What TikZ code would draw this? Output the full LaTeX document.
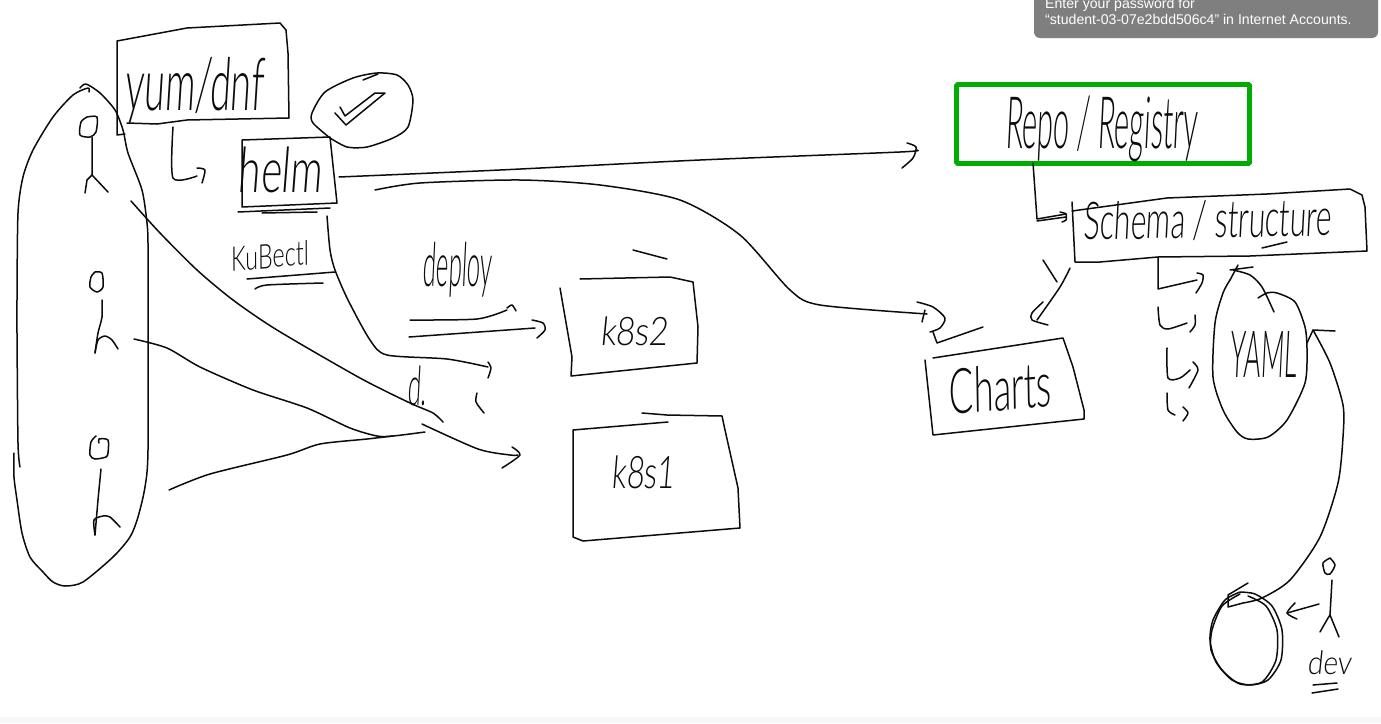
\documentclass[tikz,border=0pt]{standalone}
\usepackage{fontspec}
\setmainfont{Liberation Sans}
\newfontfamily\hand[FakeSlant=0.12]{Lato Light}
\definecolor{inkc}{RGB}{12,12,12}
\definecolor{popc}{RGB}{127,127,127}
\definecolor{greenc}{RGB}{0,172,0}
\definecolor{bandc}{RGB}{248,248,248}
\newcommand{\hw}[3]{\resizebox*{#1pt}{#2pt}{\hand #3}}
\newcommand{\sk}[1]{\draw[ink] plot[smooth,tension=0.45] coordinates {#1};}
\newcommand{\pl}[1]{\draw[ink] plot[sharp plot] coordinates {#1};}
\tikzset{
  ink/.style={draw=inkc,line width=1.5pt,line cap=round,line join=round},
  handlabel/.style={inner sep=0pt,text=inkc,anchor=center},
  poptext/.style={inner sep=0pt,text=white,anchor=base west,font=\fontsize{14.1}{16}\selectfont}
}
\begin{document}
\begin{tikzpicture}[x=1pt,y=-1pt]
\useasboundingbox (0,0) rectangle (1381,723);
\fill[white] (0,0) rectangle (1381,723);
\fill[bandc] (0,717) rectangle (1381,723);
% popup
\begin{scope}
\clip (0,0) rectangle (1381,723);
\fill[popc,rounded corners=6pt] (1034,-12) rectangle (1378,38);
\node[poptext] (popA) at (1045,8) {Enter your password for};
\node[poptext] (popB) at (1045,24) {“student-03-07e2bdd506c4” in Internet Accounts.};
\end{scope}
% named ends of connectors
\coordinate (yumDrop) at (173,127);
\coordinate (helmOut) at (339,177);
\coordinate (repoIn) at (916,150);
\coordinate (helmLow) at (375,190);
\coordinate (chartsIn) at (927,314);
\coordinate (helmDown) at (327,216);
\coordinate (kubeEnd) at (488,367);
\coordinate (userOne) at (131,201);
\coordinate (userTwo) at (134,339);
\coordinate (userThree) at (169,490);
\coordinate (joinA) at (393,436);
\coordinate (joinB) at (422,424);
\coordinate (kOneIn) at (518,455);
\coordinate (repoDrop) at (1033,163);
\coordinate (schemaIn) at (1066,214);
\coordinate (schemaOut) at (1070,268);
\coordinate (chartsTop) at (1037,320);
\coordinate (schemaDrop) at (1158,257);
\coordinate (discOut) at (1243,603);
\coordinate (yamlIn) at (1313,330);
\coordinate (devArrow) at (1319,604);
\coordinate (discIn) at (1287,613);
% crowd outline
\sk{(80,88)(86,84)(100,93)(115,110)(123,130)(128,153)(142,190)(147,223)(148,243)(148,300)(148,450)(145,487)(138,517)(130,537)(113,557)(83,582)(65,586)(53,582)(43,572)(30,557)(22,533)(17,500)(14,477)(14,453)}
\sk{(20,467)(18,443)(17,333)(17,300)(18,213)(23,177)(33,150)(53,117)(73,95)(88,88)(89,92)}
% people
\sk{(87,117)(97,117)(96,132)(90,137)(80,135)(81,122)(87,117)}
\pl{(92,137)(92,175)(87,180)(85,193)}
\pl{(92,175)(108,192)}
\sk{(95,272)(102,273)(103,287)(97,292)(90,287)(91,277)(95,272)}
\sk{(102,300)(102,317)(98,333)(95,353)}
\sk{(95,353)(98,340)(105,336)(112,340)(118,349)}
\sk{(96,436)(91,442)(90,455)(95,459)(106,457)(108,453)(108,440)(99,439)(99,443)}
\sk{(101,469)(98,500)(95,535)}
\sk{(95,535)(94,520)(103,516)(110,517)(120,527)}
\sk{(1330,558)(1323,563)(1325,573)(1330,574)(1335,565)(1330,558)}
\pl{(1332,580)(1330,615)}
\pl{(1320,632)(1328,618)(1330,615)(1339,637)}
% yum box
\pl{(127,123)(157,124)(187,120)(289,118)(288,53)(286,30)(280,23)(187,28)(117,41)(117,135)(125,134)}
\node[handlabel] (yum) at (194,90) {\hw{138}{66}{yum/dnf}};
\sk{(yumDrop)(173,178)(197,176)}
\sk{(197,168)(205,170)(202,183)}
% helm box
\pl{(242,140)(330,137)(337,203)(242,207)(242,140)}
\node[handlabel] (helm) at (280,170) {\hw{84}{46}{helm}};
\pl{(238,212)(330,208)}
\pl{(262,213)(317,212)}
% check oval
\sk{(330,138)(313,123)(312,113)(325,92)(353,78)(377,73)(397,75)(408,85)(413,100)(408,127)(393,138)(367,147)(347,147)(330,138)}
\pl{(335,113)(346,125)(385,93)(375,93)(345,116)(340,107)}
\pl{(363,80)(378,74)}
% kubectl
\node[handlabel,rotate=5] (kube) at (269,256) {\hw{78}{25}{KuBectl}};
\pl{(247,279)(335,272)}
\sk{(255,289)(267,285)(323,283)}
% helm to repo
\sk{(helmOut)(500,170)(700,160)(900,152)(repoIn)}
\sk{(907,143)(916,147)(913,158)(902,168)}
% helm to charts
\sk{(helmLow)(420,183)(520,180)(600,185)(680,200)(740,235)(790,290)(820,305)(chartsIn)}
\sk{(917,302)(933,307)(945,318)(940,328)(930,332)}
\sk{(925,310)(922,322)}
\pl{(933,332)(937,343)(983,327)}
% kubectl curve
\sk{(helmDown)(330,250)(335,270)(348,300)(370,340)(387,355)(447,359)(kubeEnd)}
\sk{(488,362)(491,368)(488,378)}
\sk{(477,393)(476,402)(484,413)}
% users to k8s1
\sk{(userOne)(160,233)(197,270)(233,300)(277,330)(360,378)(410,403)(433,413)(443,422)}
\sk{(userTwo)(167,348)(200,367)(253,390)(307,408)(350,428)(377,436)(joinA)(425,432)}
\sk{(userThree)(210,474)(287,455)(320,444)(367,439)(joinA)}
\sk{(joinB)(478,449)(510,455)(kOneIn)}
\sk{(512,447)(520,455)(502,468)}
\node[handlabel] (dmark) at (417,386) {\hw{19}{40}{d.}};
% deploy
\node[handlabel] (deploy) at (457,270) {\hw{69}{55}{deploy}};
\sk{(410,320)(477,319)(507,310)}
\sk{(507,308)(512,305)(516,311)}
\pl{(409,337)(535,328)}
\sk{(532,320)(543,323)(545,330)(537,338)}
% k8s2
\pl{(560,288)(572,357)(571,376)(697,363)(698,327)(693,282)(670,277)(580,279)}
\pl{(633,250)(667,259)}
\node[handlabel] (ktwo) at (634,331) {\hw{68}{29}{k8s2}};
% k8s1
\pl{(668,422)(573,430)(573,537)(583,541)(740,528)(738,488)(725,430)(722,416)(667,415)(642,413)}
\node[handlabel] (kone) at (643,472) {\hw{63}{33}{k8s1}};
% repo
\draw[greenc,line width=4.6pt,rounded corners=1pt] (956.5,84.5) rectangle (1249.5,163.5);
\node[handlabel] (repo) at (1101,129) {\hw{192}{66}{Repo / Registry}};
\pl{(repoDrop)(1037,219)(schemaIn)}
\pl{(1037,221)(1066,217)}
\sk{(1060,212)(1066,214)(1066,220)(1062,222)}
% schema
\pl{(1072,202)(1075,262)(1100,262)(1158,257)(1250,256)(1367,251)(1365,207)(1362,195)(1350,189)(1267,194)(1167,198)(1072,211)}
\node[handlabel,rotate=1] (schema) at (1207,220) {\hw{248}{40}{Schema / structure}};
\pl{(1262,248)(1287,242)}
% schema to charts
\pl{(1043,260)(1057,282)}
\sk{(schemaOut)(1060,287)(chartsTop)}
\sk{(1043,302)(1032,313)(1032,320)(1048,325)}
% charts
\pl{(933,358)(1063,338)(1073,367)(1084,410)(1084,419)(933,435)(925,360)}
\node[handlabel,rotate=5] (charts) at (999,388) {\hw{103}{46}{Charts}};
% small arrows
\pl{(schemaDrop)(1158,289)(1197,280)}
\sk{(1197,273)(1203,275)(1202,283)(1196,293)}
\sk{(1158,307)(1160,325)(1168,329)(1187,323)}
\sk{(1195,315)(1195,325)(1190,332)}
\sk{(1167,348)(1168,378)(1180,378)(1190,370)}
\sk{(1193,362)(1198,370)(1189,388)}
\sk{(1167,393)(1168,410)(1175,415)}
\sk{(1183,407)(1188,413)(1183,421)}
% yaml
\pl{(1230,270)(1253,267)}
\pl{(1238,265)(1230,280)}
\sk{(1230,280)(1223,293)(1215,323)(1213,377)(1223,410)(1237,432)(1248,439)(1268,437)(1287,420)(1305,383)(1307,350)(1305,327)(1295,302)(1277,293)(1267,293)(1258,298)}
\sk{(1233,270)(1250,275)(1262,287)(1274,312)}
\node[handlabel] (yaml) at (1263,354) {\hw{67}{46}{YAML}};
% disc
\sk{(1240,592)(1225,600)(1213,620)(1210,640)(1216,662)(1232,680)(1250,685)(1268,680)(1281,660)(1282,630)(1272,606)(1255,594)(1240,592)}
\sk{(1240,594)(1222,606)(1212,630)(1211,650)(1222,670)(1240,684)(1262,682)(1276,660)(1277,630)(1266,606)(1248,596)}
\pl{(1243,603)(1228,607)(1228,595)(1248,583)}
% disc to yaml
\sk{(discOut)(1262,598)(1290,580)(1320,537)(1338,483)(1343,437)(1343,405)(1330,363)(yamlIn)}
\pl{(1307,343)(yamlIn)(1335,331)}
% dev
\pl{(devArrow)(discIn)}
\sk{(1295,603)(1287,613)(1297,619)}
\node[handlabel] (dev) at (1329,663) {\hw{44}{24}{dev}};
\pl{(1313,685)(1337,683)}
\pl{(1312,693)(1338,689)}
\end{tikzpicture}
\end{document}
